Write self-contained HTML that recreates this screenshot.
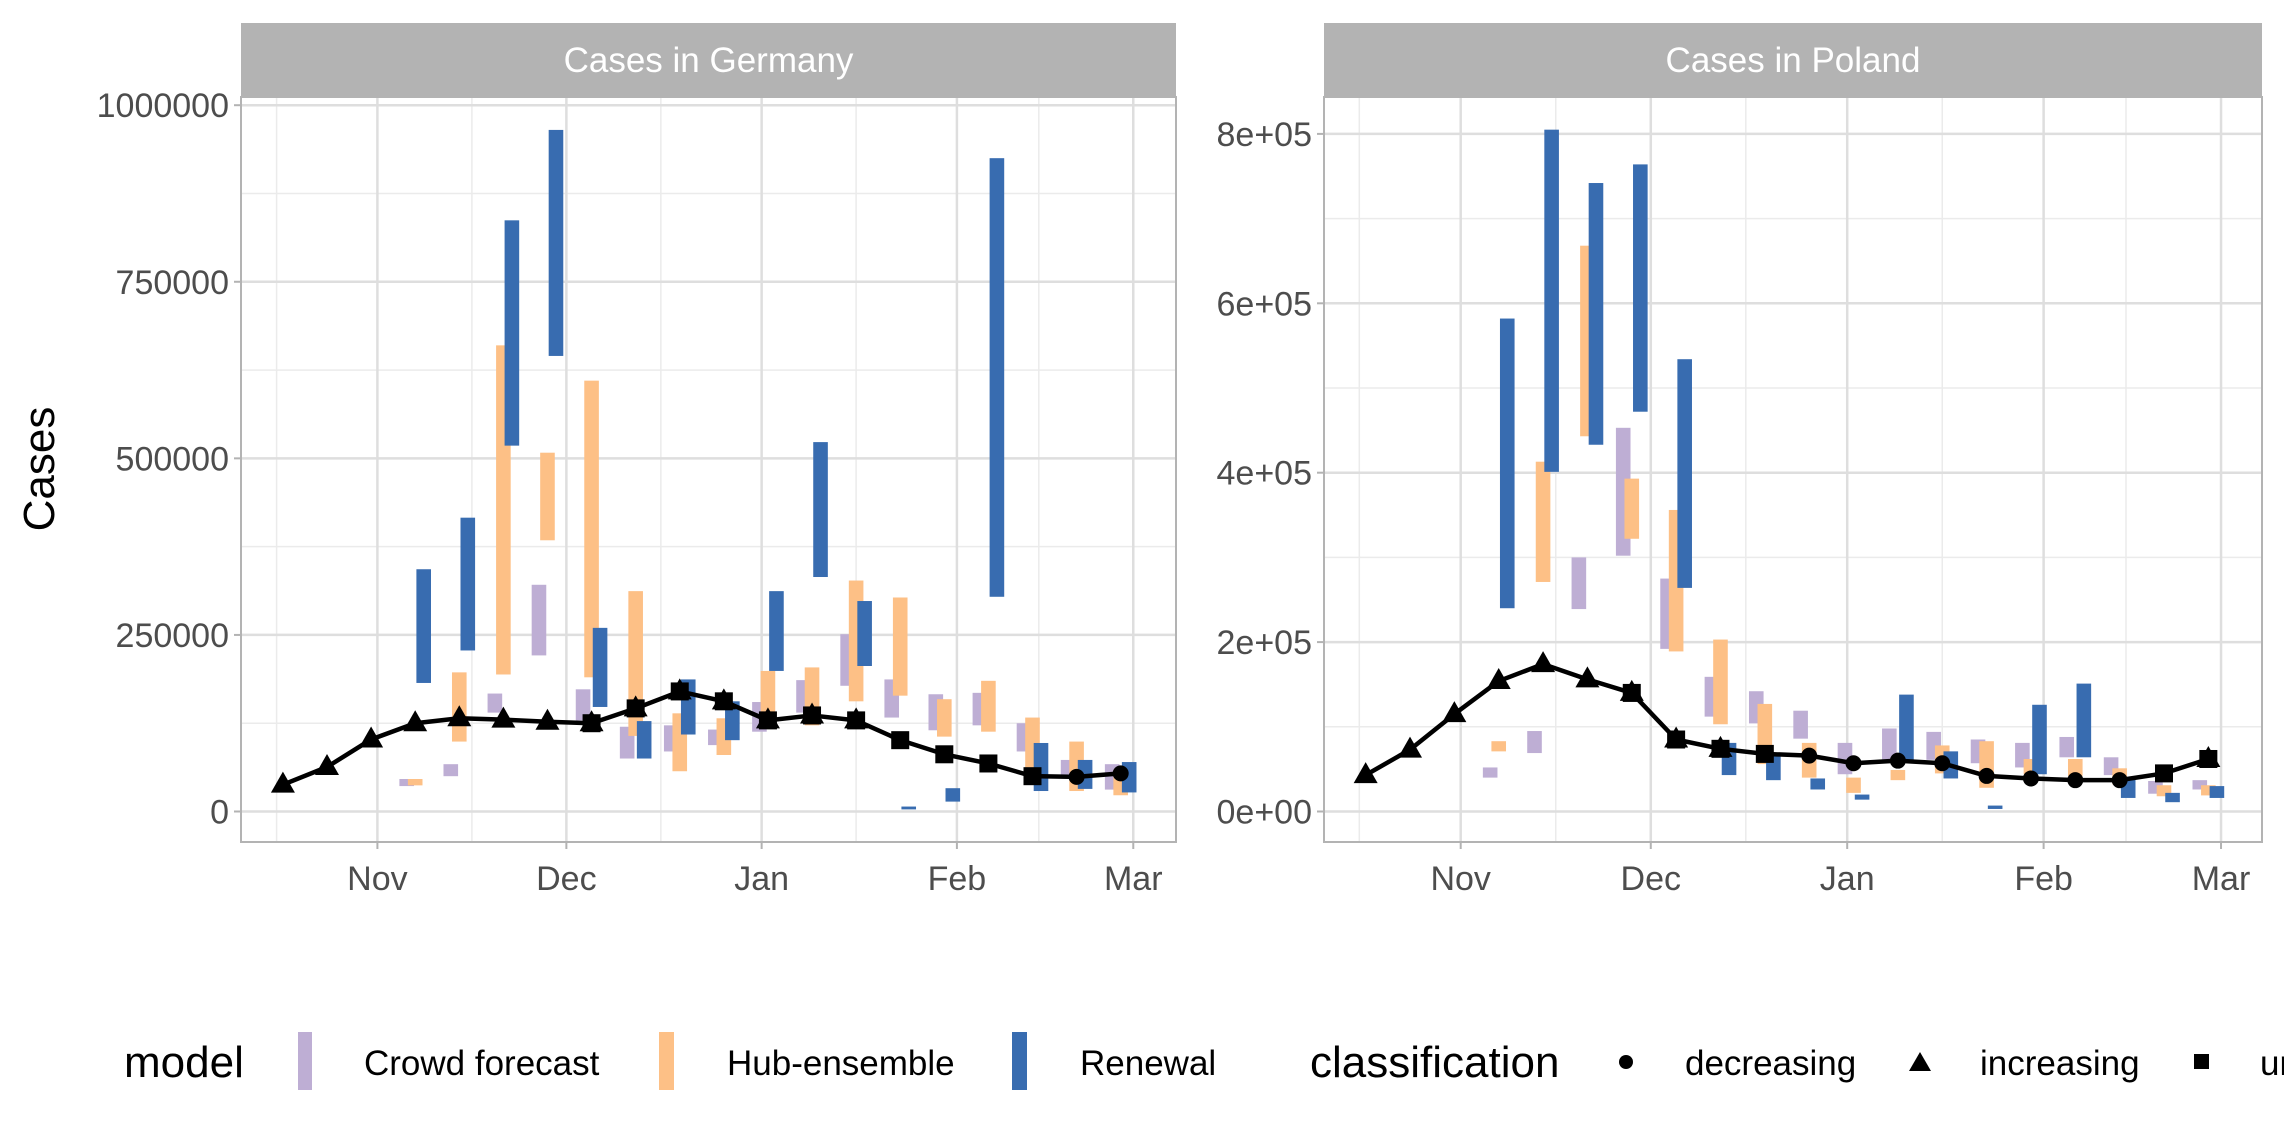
<!DOCTYPE html>
<html><head><meta charset="utf-8"><style>
html,body{margin:0;padding:0;background:#fff;}
svg{display:block;font-family:"Liberation Sans",sans-serif;}
</style></head><body>
<svg id="chart" width="2284" height="1143" viewBox="0 0 2284 1143" xmlns="http://www.w3.org/2000/svg">
<text x="0" y="0" transform="translate(54,469) rotate(-90)" text-anchor="middle" font-size="44" fill="#000">Cases</text>
<g id="legend">
<text x="124" y="1077" font-size="44">model</text>
<rect x="298" y="1032" width="14" height="58" fill="#BEAED4"/>
<text x="364" y="1075" font-size="35">Crowd forecast</text>
<rect x="659" y="1032" width="15" height="58" fill="#FDC086"/>
<text x="727" y="1075" font-size="35">Hub-ensemble</text>
<rect x="1012" y="1032" width="15" height="58" fill="#386CB0"/>
<text x="1080" y="1075" font-size="35">Renewal</text>
<text x="1310" y="1077" font-size="44">classification</text>
<circle cx="1626" cy="1062" r="7" fill="#000"/>
<text x="1685" y="1075" font-size="35">decreasing</text>
<polygon points="1920,1052 1931,1071 1909,1071" fill="#000"/>
<text x="1980" y="1075" font-size="35">increasing</text>
<rect x="2194" y="1054" width="15" height="15" fill="#000"/>
<text x="2260" y="1075" font-size="35">unclear</text>
</g>
</svg>
<script>
const weekDates = ["2021-10-17","2021-10-24","2021-10-31","2021-11-07","2021-11-14","2021-11-21","2021-11-28","2021-12-05","2021-12-12","2021-12-19","2021-12-26","2022-01-02","2022-01-09","2022-01-16","2022-01-23","2022-01-30","2022-02-06","2022-02-13","2022-02-20","2022-02-27"];
const monthTicks = ["2021-11-01","2021-12-01","2022-01-01","2022-02-01","2022-03-01"];
const monthLabels = ["Nov","Dec","Jan","Feb","Mar"];
const minorTicks = ["2021-10-16","2021-11-16","2021-12-16","2022-01-16","2022-02-14"];

const deTruth = [38000,63000,102000,125000,132000,130000,127000,125000,146000,170000,156000,129000,136000,129000,101000,81000,68000,50000,49000,54000];
const deClass = ["T","T","T","T","T","T","T","TS","TS","TS","TS","TS","TS","TS","S","S","S","S","C","C"];
const deCrowdLo = [null,null,null,36000,50000,140000,221000,129000,75000,85000,94000,113000,140000,178000,133000,115000,122000,85000,50000,31000];
const deCrowdHi = [null,null,null,46000,67000,167000,321000,173000,120000,122000,116000,155000,186000,251000,187000,166000,168000,125000,73000,67000];
const deHubLo = [null,null,null,37000,99000,194000,384000,190000,107000,57000,80000,124000,122000,156000,164000,106000,113000,59000,29000,23000];
const deHubHi = [null,null,null,46000,197000,660000,508000,610000,312000,139000,132000,199000,204000,327000,303000,159000,185000,133000,99000,59000];
const deRenLo = [null,null,null,182000,228000,518000,645000,148000,75000,109000,101000,199000,332000,206000,3000,14000,304000,29000,32000,27000];
const deRenHi = [null,null,null,343000,416000,837000,965000,260000,128000,187000,156000,312000,523000,298000,7000,33000,925000,97000,73000,70000];
const deYTicks = [0,250000,500000,750000,1000000];
const deYLabels = ["0","250000","500000","750000","1000000"];
const deYMinor = [125000,375000,625000,875000];

const plTruth = [43000,73000,115000,154000,174000,156000,140000,85000,74000,68000,66000,57000,60000,57000,42000,39000,37000,37000,45000,62000];
const plClass = ["T","T","T","T","T","T","TS","TS","TS","S","C","C","C","C","C","C","C","C","S","TS"];
const plCrowdLo = [null,null,null,40000,69000,239000,302000,192000,112000,104000,86000,44000,61000,61000,57000,52000,64000,43000,21000,26000];
const plCrowdHi = [null,null,null,52000,95000,300000,453000,275000,159000,142000,119000,81000,98000,94000,85000,81000,88000,64000,36000,37000];
const plHubLo = [null,null,null,71000,271000,443000,322000,189000,103000,56000,40000,22000,37000,45000,28000,44000,42000,32000,18000,19000];
const plHubHi = [null,null,null,83000,413000,668000,393000,356000,203000,127000,81000,40000,49000,78000,83000,62000,62000,51000,31000,31000];
const plRenLo = [null,null,null,240000,401000,433000,472000,264000,43000,37000,26000,14000,61000,39000,3000,44000,64000,16000,11000,16000];
const plRenHi = [null,null,null,582000,805000,742000,764000,534000,81000,68000,39000,20000,138000,71000,7000,126000,151000,39000,22000,30000];
const plYTicks = [0,200000,400000,600000,800000];
const plYLabels = ["0e+00","2e+05","4e+05","6e+05","8e+05"];
const plYMinor = [100000,300000,500000,700000];

const NS="http://www.w3.org/2000/svg";
const svg=document.getElementById('chart');
const legend=document.getElementById('legend');
function mk(tag,attrs,parent){const e=document.createElementNS(NS,tag);for(const k in attrs)e.setAttribute(k,attrs[k]);if(parent)parent.appendChild(e);else svg.insertBefore(e,legend);return e;}
function dayOf(s){return (Date.parse(s+"T00:00:00Z")-Date.parse("2021-11-01T00:00:00Z"))/86400000;}

function panel(cfg){
  const {left,right,top,bottom,x0,pxDay,y0,pxUnit,title,truth,cls,cLo,cHi,hLo,hHi,rLo,rHi,yT,yL,yM,key}=cfg;
  const xS=d=>x0+dayOf(d)*pxDay;
  const yS=v=>y0-v*pxUnit;
  const g=document.createElementNS(NS,'g');svg.insertBefore(g,legend);
  
  
  const strip=mk('rect',{x:left,y:23,width:right-left,height:top-23,fill:'#b3b3b3'},g);
  
  
  const st=mk('text',{x:(left+right)/2,y:72,'text-anchor':'middle','font-size':35,fill:'#fff'},g);
  st.textContent=title;
  
  
  yM.forEach(v=>{const l=mk('line',{x1:left,x2:right,y1:yS(v),y2:yS(v),stroke:'#ebebeb','stroke-width':1.5},g);
    
    });
  minorTicks.forEach(d=>{const l=mk('line',{x1:xS(d),x2:xS(d),y1:top,y2:bottom,stroke:'#ebebeb','stroke-width':1.5},g);
    
    });
  yT.forEach((v,i)=>{const l=mk('line',{x1:left,x2:right,y1:yS(v),y2:yS(v),stroke:'#dedede','stroke-width':2.5},g);
    
    
    const t=mk('line',{x1:left-7,x2:left,y1:yS(v),y2:yS(v),stroke:'#b3b3b3','stroke-width':2},g);
    
    
    const tx=mk('text',{x:left-12,y:yS(v)+12,'text-anchor':'end','font-size':34,fill:'#4d4d4d'},g);
    tx.textContent=yL[i];
    
    });
  monthTicks.forEach((d,i)=>{const l=mk('line',{x1:xS(d),x2:xS(d),y1:top,y2:bottom,stroke:'#dedede','stroke-width':2.5},g);
    
    
    const t=mk('line',{x1:xS(d),x2:xS(d),y1:bottom,y2:bottom+7,stroke:'#b3b3b3','stroke-width':2},g);
    
    
    const tx=mk('text',{x:xS(d),y:890,'text-anchor':'middle','font-size':34,fill:'#4d4d4d'},g);
    tx.textContent=monthLabels[i];
    
    });
  const series=[[cLo,cHi,'#BEAED4',-1.35,'crowd'],[hLo,hHi,'#FDC086',0,'hub'],[rLo,rHi,'#386CB0',1.35,'renewal']];
  series.forEach(([lo,hi,col,off,nm])=>{
    weekDates.forEach((d,i)=>{ if(lo[i]==null)return;
      const xc=xS(d)+off*pxDay;
      const r=mk('rect',{x:xc-7.3,y:yS(hi[i]),width:14.6,height:Math.max(1,yS(lo[i])-yS(hi[i])),fill:col},g);
      
      
    });
  });
  const pts=weekDates.map((d,i)=>xS(d)+','+yS(truth[i])).join(' ');
  const pl=mk('polyline',{points:pts,fill:'none',stroke:'#000','stroke-width':4.5,'stroke-linejoin':'round'},g);
  
  
  weekDates.forEach((d,i)=>{const cx=xS(d),cy=yS(truth[i]);const c=cls[i];
    if(c.includes('T')){const p=mk('polygon',{points:`${cx},${cy-13} ${cx+12},${cy+8} ${cx-12},${cy+8}`,fill:'#000'},g);
      
      }
    if(c.includes('S')){const p=mk('rect',{x:cx-9,y:cy-9,width:18,height:18,fill:'#000'},g);
      
      }
    if(c.includes('C')){const p=mk('circle',{cx:cx,cy:cy,r:8,fill:'#000'},g);
      
      }
  });
  const b=mk('rect',{x:left,y:top,width:right-left,height:bottom-top,fill:'none',stroke:'#b3b3b3','stroke-width':2},g);
  
  
}
panel({key:'germany',left:241,right:1176,top:97,bottom:842,x0:377.4,pxDay:6.299,y0:811.5,pxUnit:0.0007063,title:'Cases in Germany',
  truth:deTruth,cls:deClass,cLo:deCrowdLo,cHi:deCrowdHi,hLo:deHubLo,hHi:deHubHi,rLo:deRenLo,rHi:deRenHi,yT:deYTicks,yL:deYLabels,yM:deYMinor});
panel({key:'poland',left:1324,right:2262,top:97,bottom:842,x0:1460.7,pxDay:6.336,y0:811.5,pxUnit:0.000847,title:'Cases in Poland',
  truth:plTruth,cls:plClass,cLo:plCrowdLo,cHi:plCrowdHi,hLo:plHubLo,hHi:plHubHi,rLo:plRenLo,rHi:plRenHi,yT:plYTicks,yL:plYLabels,yM:plYMinor});
</script>
</body></html>
